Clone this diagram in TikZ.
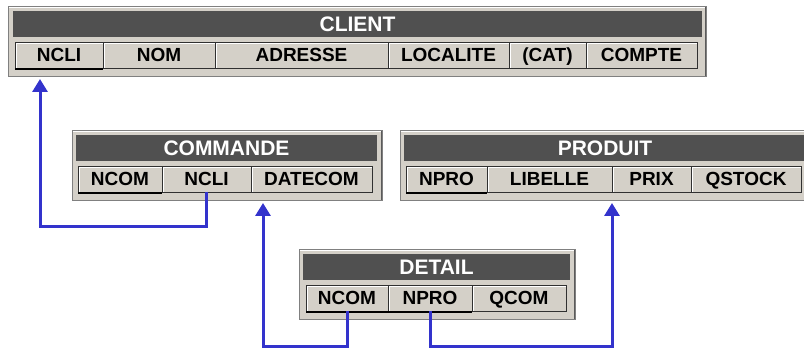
\documentclass[tikz,border=0pt]{standalone}
\usepackage{fontspec}
\setmainfont{Liberation Sans}
\usetikzlibrary{arrows.meta,positioning}

\definecolor{TblFace}  {HTML}{D4D0C8}
\definecolor{TblTitle} {HTML}{505050}
\definecolor{TblShadow}{HTML}{808080}
\definecolor{TblEdge}  {HTML}{303030}
\definecolor{LinkBlue} {HTML}{3333CC}

\tikzset{
  tblframe/.style={fill=TblFace,draw=TblShadow,line width=1pt,anchor=north west,
    inner sep=0pt,outer sep=0pt,minimum height=70pt,
    path picture={
      \draw[white,line width=2pt] (path picture bounding box.south west)
        -- (path picture bounding box.north west) -- (path picture bounding box.north east);
      \draw[TblShadow!70!black,line width=2pt] (path picture bounding box.south west)
        -- (path picture bounding box.south east) -- (path picture bounding box.north east);}},
  tbltitle/.style={fill=TblTitle,text=white,font=\fontsize{21}{21}\selectfont\bfseries,
    text height=15pt,text depth=0pt,
    anchor=north west,inner sep=0pt,outer sep=0pt,minimum height=26pt},
  tblcell/.style={fill=TblFace,draw=TblEdge,line width=0.8pt,
    font=\fontsize{19}{19}\selectfont\bfseries,text height=13.6pt,text depth=0pt,
    inner sep=0pt,outer sep=0pt,minimum height=26pt,
    path picture={
      \draw[white,line width=1.5pt] ([xshift=1pt]path picture bounding box.south west)
        -- ([xshift=1pt,yshift=-1pt]path picture bounding box.north west)
        -- ([yshift=-1pt]path picture bounding box.north east);}},
  keyline/.style={line width=2.5pt,black},
  fk/.style={draw=LinkBlue,line width=3pt,shorten >=2pt,-{Triangle[width=15pt,length=13pt]}},
}

\begin{document}
\begin{tikzpicture}[x=1pt,y=-1pt]
  \useasboundingbox (0,0) rectangle (804,352);

  % CLIENT
  \node[tblframe,minimum width=698pt] (client) at (8,7) {};
  \node[tbltitle,minimum width=689pt] (client-title) at (13,11) {CLIENT};
  \node[tblcell,anchor=north west,minimum width=88pt] (client-ncli) at (15,42) {NCLI};
  \node[tblcell,right=0pt of client-ncli,minimum width=112pt] (client-nom) {NOM};
  \node[tblcell,right=0pt of client-nom,minimum width=173pt] (client-adresse) {ADRESSE};
  \node[tblcell,right=0pt of client-adresse,minimum width=121pt] (client-localite) {LOCALITE};
  \node[tblcell,right=0pt of client-localite,minimum width=77pt] (client-cat) {(CAT)};
  \node[tblcell,right=0pt of client-cat,minimum width=111pt] (client-compte) {COMPTE};
  \draw[keyline] ([yshift=-1pt]client-ncli.south west) -- ([yshift=-1pt]client-ncli.south east);

  % COMMANDE
  \node[tblframe,minimum width=310pt] (commande) at (72,131) {};
  \node[tbltitle,minimum width=301pt] (commande-title) at (76,135) {COMMANDE};
  \node[tblcell,anchor=north west,minimum width=84pt] (commande-ncom) at (78,166) {NCOM};
  \node[tblcell,right=0pt of commande-ncom,minimum width=89pt] (commande-ncli) {NCLI};
  \node[tblcell,right=0pt of commande-ncli,minimum width=121pt] (commande-datecom) {DATECOM};
  \draw[keyline] ([yshift=-1pt]commande-ncom.south west) -- ([yshift=-1pt]commande-ncom.south east);

  % PRODUIT
  \node[tblframe,minimum width=410pt] (produit) at (400,131) {};
  \node[tbltitle,minimum width=402pt] (produit-title) at (404,135) {PRODUIT};
  \node[tblcell,anchor=north west,minimum width=81pt] (produit-npro) at (406,166) {NPRO};
  \node[tblcell,right=0pt of produit-npro,minimum width=125pt] (produit-libelle) {LIBELLE};
  \node[tblcell,right=0pt of produit-libelle,minimum width=79pt] (produit-prix) {PRIX};
  \node[tblcell,right=0pt of produit-prix,minimum width=110pt] (produit-qstock) {QSTOCK};
  \draw[keyline] ([yshift=-1pt]produit-npro.south west) -- ([yshift=-1pt]produit-npro.south east);

  % DETAIL
  \node[tblframe,minimum width=276pt] (detail) at (299,250) {};
  \node[tbltitle,minimum width=267pt] (detail-title) at (303,254) {DETAIL};
  \node[tblcell,anchor=north west,minimum width=82pt] (detail-ncom) at (306,285) {NCOM};
  \node[tblcell,right=0pt of detail-ncom,minimum width=84pt] (detail-npro) {NPRO};
  \node[tblcell,right=0pt of detail-npro,minimum width=94pt] (detail-qcom) {QCOM};
  \draw[keyline] ([yshift=-1pt]detail-ncom.south west) -- ([yshift=-1pt]detail-npro.south east);

  % foreign keys
  \coordinate (bend-cli) at (40,227);
  \coordinate (bend-com) at (263,347);
  \coordinate (bend-pro) at (612,347);
  \draw[fk] (commande-ncli.south) |- (bend-cli) -- (bend-cli |- client.south);
  \draw[fk] (detail-ncom.south) |- (bend-com) -- (bend-com |- commande.south);
  \draw[fk] (detail-npro.south) |- (bend-pro) -- (bend-pro |- produit.south);
\end{tikzpicture}
\end{document}
